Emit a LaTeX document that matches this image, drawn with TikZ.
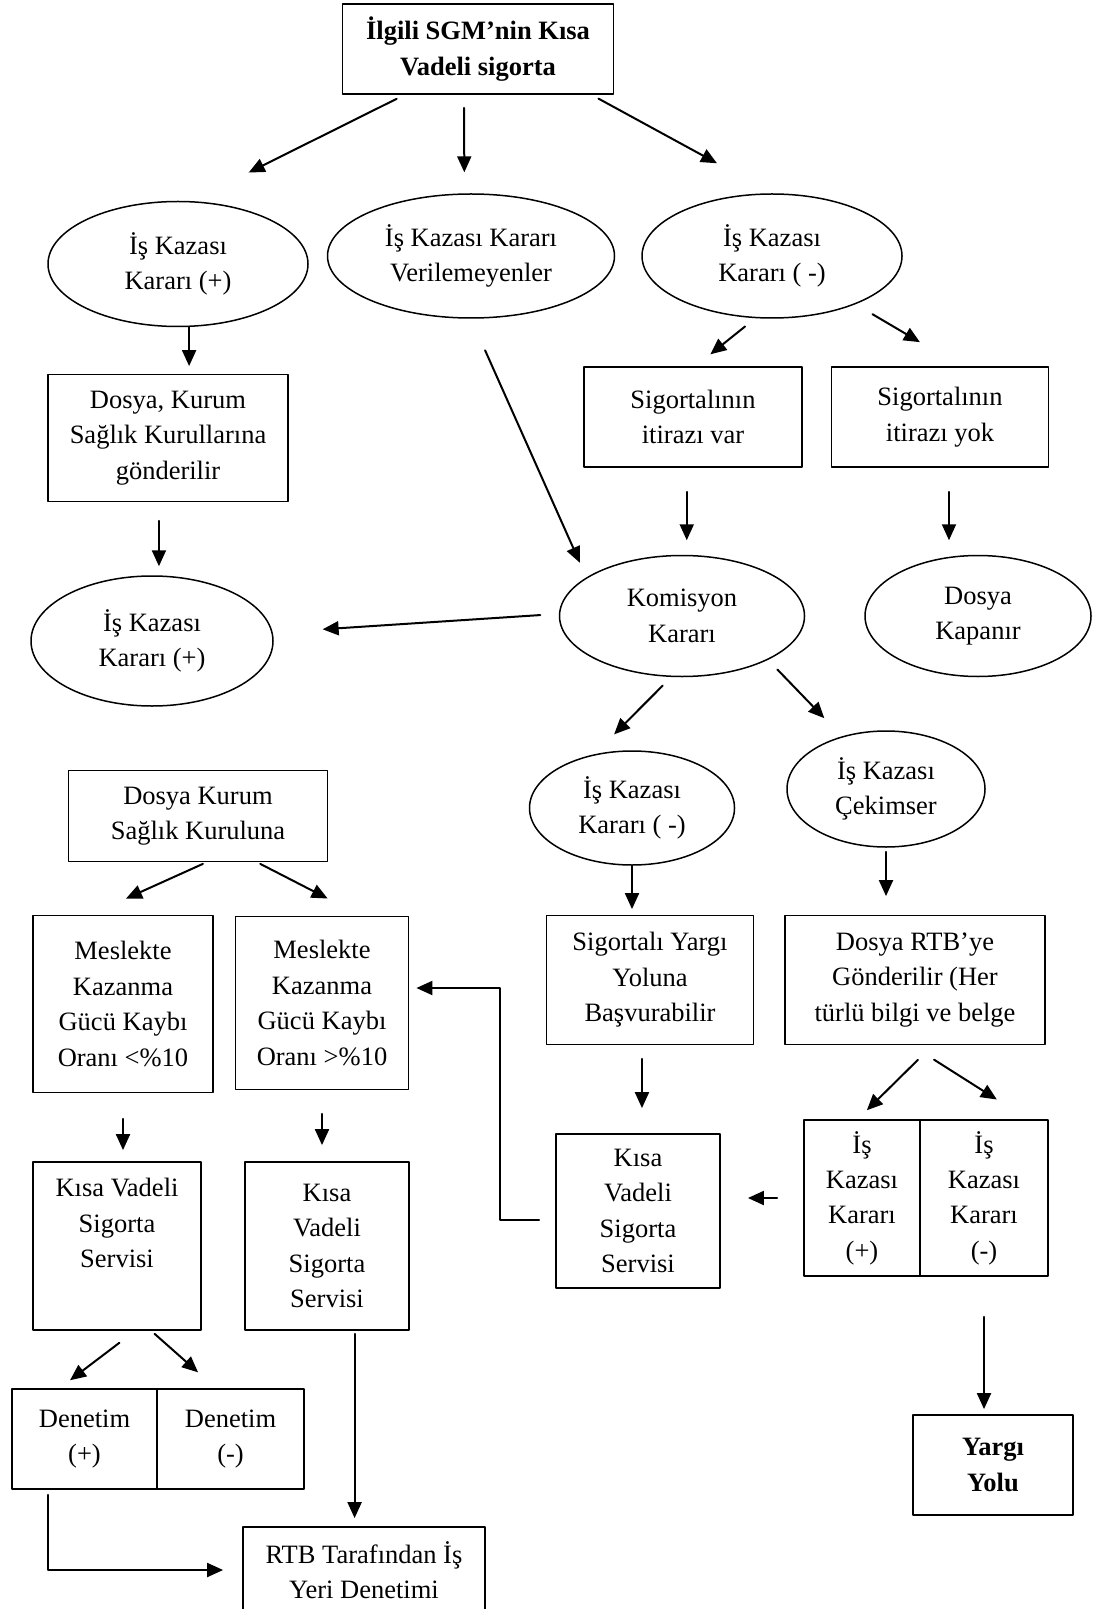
\documentclass[tikz,border=0pt]{standalone}
\usepackage{fontspec}
\setmainfont{Liberation Serif}
\usetikzlibrary{shapes.geometric,arrows.meta}

\begin{document}
\begin{tikzpicture}[x=1pt, y=-1pt, line cap=round, line join=round,
  every node/.style={font=\fontsize{13.25}{17.7}\selectfont, align=center},
  kutu/.style={draw, line width=0.9pt, inner sep=2pt},
  elips/.style={draw, ellipse, line width=0.75pt, inner sep=0pt},
  ok/.style={-{Triangle[length=8pt,width=7pt]}, line width=1pt}]
  \useasboundingbox (0,0) rectangle (548,804.5);

  % Üst kutu
  \node[kutu, minimum width=135.5pt, minimum height=45pt,
        font=\fontsize{13.25}{17.7}\selectfont\bfseries] (top) at (239,24.5) {İlgili SGM’nin Kısa\\Vadeli sigorta};

  % Birinci sıra
  \node[elips, minimum width=130pt, minimum height=62.5pt] (e1) at (89,132) {İş Kazası\\Kararı (+)};
  \node[elips, minimum width=143.5pt, minimum height=62pt] (e2) at (235.5,128) {İş Kazası Kararı\\Verilemeyenler};
  \node[elips, minimum width=130pt, minimum height=62pt] (e3) at (386,128) {İş Kazası\\Kararı ( -)};

  \node[kutu, minimum width=120pt, minimum height=63.5pt] (b1) at (84,219) {Dosya, Kurum\\Sağlık Kurullarına\\gönderilir};
  \node[kutu, minimum width=109pt, minimum height=50pt] (b2) at (346.5,208.5) {Sigortalının\\itirazı var};
  \node[kutu, minimum width=108.5pt, minimum height=50pt] (b3) at (470,208.5) {Sigortalının\\itirazı yok};

  % Komisyon
  \node[elips, minimum width=121pt, minimum height=65pt] (e4) at (76,320.5) {İş Kazası\\Kararı (+)};
  \node[elips, minimum width=122.5pt, minimum height=60.5pt] (kom) at (341,308) {Komisyon\\Kararı};
  \node[elips, minimum width=113pt, minimum height=60.5pt] (kap) at (489,308) {Dosya\\Kapanır};

  \node[kutu, minimum width=129.5pt, minimum height=45.5pt] (b4) at (99,408) {Dosya Kurum\\Sağlık Kuruluna};
  \node[elips, minimum width=102.5pt, minimum height=57pt] (e5) at (316,404) {İş Kazası\\Kararı ( -)};
  \node[elips, minimum width=99pt, minimum height=58pt] (e6) at (443,394.5) {İş Kazası\\Çekimser};

  % Meslekte kazanma gücü
  \node[kutu, minimum width=90pt, minimum height=88.5pt] (m1) at (61.5,502) {Meslekte\\Kazanma\\Gücü Kaybı\\Oranı <\%10};
  \node[kutu, minimum width=86.5pt, minimum height=86.5pt] (m2) at (161,501.5) {Meslekte\\Kazanma\\Gücü Kaybı\\Oranı >\%10};
  \node[kutu, minimum width=103.5pt, minimum height=64.5pt] (s1) at (325,490) {Sigortalı Yargı\\Yoluna\\Başvurabilir};
  \node[kutu, minimum width=130pt, minimum height=64.5pt] (r1) at (457.5,490) {Dosya RTB’ye\\Gönderilir (Her\\türlü bilgi ve belge};

  % Kısa vadeli sigorta servisleri
  \node[kutu, minimum width=84pt, minimum height=84pt] (k1) at (58.5,623) {Kısa Vadeli\\Sigorta\\Servisi\\ \strut};
  \node[kutu, minimum width=82pt, minimum height=84pt] (k2) at (163.5,623) {Kısa\\Vadeli\\Sigorta\\Servisi};
  \node[kutu, minimum width=82pt, minimum height=77pt] (k3) at (319,605.5) {Kısa\\Vadeli\\Sigorta\\Servisi};
  \node[kutu, minimum width=58pt, minimum height=78pt] (ikp) at (431,599) {İş\\Kazası\\Kararı\\(+)};
  \node[kutu, minimum width=64pt, minimum height=78pt] (ikn) at (492,599) {İş\\Kazası\\Kararı\\(-)};

  % Alt sıra
  \node[kutu, minimum width=72.5pt, minimum height=50pt] (denp) at (42.25,719.5) {Denetim\\(+)};
  \node[kutu, minimum width=73.5pt, minimum height=50pt] (denn) at (115.25,719.5) {Denetim\\(-)};
  \node[kutu, minimum width=80pt, minimum height=50pt,
        font=\fontsize{13.25}{17.7}\selectfont\bfseries] (yargi) at (496.5,732.5) {Yargı\\Yolu};
  \node[kutu, minimum width=121pt, minimum height=43pt] (rtb) at (182,785) {RTB Tarafından İş\\Yeri Denetimi};
  \coordinate (kv) at (250,494);

  % Oklar
  \draw[ok, shorten <=4.4pt, shorten >=32pt] (top.212) -- (e1.78);
  \draw[ok, shorten <=6.5pt, shorten >=10.5pt] (top.253) -- (e2.96);
  \draw[ok, shorten <=3.9pt, shorten >=31.3pt] (top.338) -- (e3.north);
  \draw[ok, shorten >=3.75pt] (e1.280) -- (e1.280 |- b1.north);
  \draw[ok, shorten <=6.6pt, shorten >=9.4pt] (e3.255) -- (b2.87);
  \draw[ok, shorten <=9.8pt, shorten >=23.6pt] (e3.330) -- (b3.68);
  \draw[ok, shorten <=12pt, shorten >=7.25pt] (b2.263) -- (b2.263 |- kom.north);
  \draw[ok, shorten <=12pt, shorten >=7.25pt] (b3.280) -- (b3.280 |- kap.north);
  \draw[ok, shorten <=9.25pt, shorten >=4.5pt] (b1.262) -- (b1.262 |- e4.north);
  \draw[ok, shorten <=17.3pt, shorten >=8pt] (e2.south) -- (kom.158);
  \draw[ok, shorten <=9.3pt, shorten >=25pt] (kom.179) -- (e4.4);
  \draw[ok, shorten <=6pt, shorten >=14pt] (kom.260) -- (e5.125);
  \draw[ok, shorten <=6.7pt, shorten >=12.6pt] (kom.333) -- (e6.130);
  \draw[ok, shorten <=1.8pt, shorten >=19.5pt] (b4.280) -- (m1.110);
  \draw[ok, shorten <=1.6pt, shorten >=18.7pt] (b4.322) -- (m2.66);
  \draw[ok, shorten >=2.75pt] (e5.south) -- (e5.south |- s1.north);
  \draw[ok, shorten <=2pt, shorten >=9.25pt] (e6.south) -- (e6.south |- r1.north);
  \draw[ok, shorten <=6.75pt, shorten >=12.5pt] (s1.263) -- (s1.263 |- k3.north);
  \draw[ok, shorten <=10.2pt, shorten >=6.3pt] (r1.285) -- (ikp.93);
  \draw[ok, shorten <=13.3pt, shorten >=18.3pt] (r1.267) -- (ikn.61);
  \draw[ok, shorten <=13pt, shorten >=13.5pt] (ikp.west) -- (ikp.west -| k3.east);
  \draw[ok, shorten <=8pt, shorten >=3.5pt] (k3.186) -| (kv) -- (kv -| m2.east);
  \draw[ok, shorten <=20pt, shorten >=2.5pt] (ikn.south) -- (ikn.south |- yargi.north);
  \draw[ok, shorten <=12.75pt, shorten >=5.5pt] (m1.south) -- (m1.south |- k1.north);
  \draw[ok, shorten <=11.75pt, shorten >=8pt] (m2.south) -- (m2.south |- k2.north);
  \draw[ok, shorten <=9.8pt, shorten >=6.5pt] (k1.282) -- (denp.116);
  \draw[ok, shorten <=2.2pt, shorten >=11.9pt] (k1.292) -- (denn.106);
  \draw[ok, shorten <=1.5pt, shorten >=4pt] (k2.288) -- (k2.288 |- rtb.north);
  \draw[ok, shorten <=2.5pt, shorten >=9.5pt] (denp.234) |- (rtb.west);
\end{tikzpicture}
\end{document}
